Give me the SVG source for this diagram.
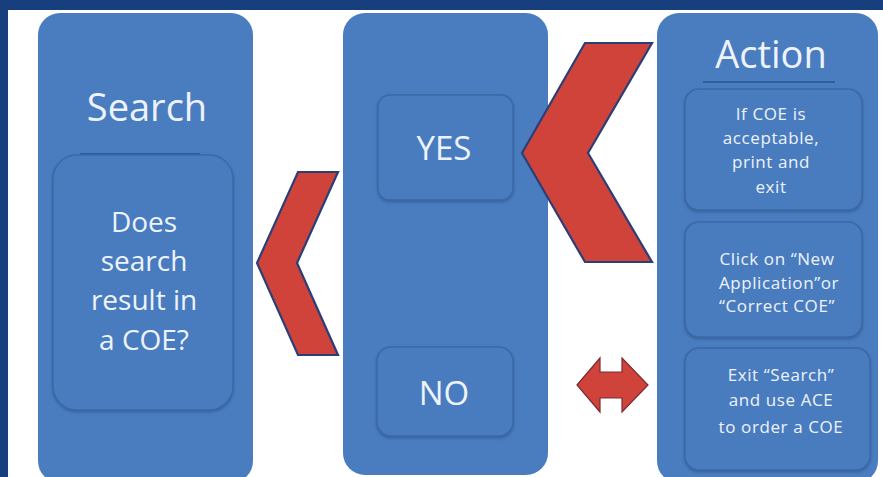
<svg xmlns="http://www.w3.org/2000/svg" width="883" height="477" viewBox="0 0 883 477">
<defs>
<style>
.panel{fill:#4a7dc0;}
.box{fill:#4a7cbf;stroke:#3a68a6;stroke-width:1.5;}
.rule{stroke:#2f5e9e;stroke-width:2;}
.t{font-family:"Open Sans","Liberation Sans",sans-serif;fill:#eef3fb;text-anchor:middle;}
.title{font-size:38px;}
.big{font-size:28px;}
.yn{font-size:33px;}
.small{font-size:17px;letter-spacing:0.6px;}
.chev{fill:#d0433b;stroke:#2a3f78;stroke-width:2.2;stroke-linejoin:miter;}
.dbl{fill:#d0433b;stroke:#7a2a35;stroke-width:1.2;}
</style>
<filter id="sh" x="-10%" y="-10%" width="120%" height="120%">
<feDropShadow dx="0" dy="1.5" stdDeviation="1.5" flood-color="#1f3f70" flood-opacity="0.5"/>
</filter>
</defs>
<rect x="0" y="0" width="883" height="477" fill="#ffffff"/>
<rect x="0" y="0" width="883" height="10" fill="#173f7d"/>
<rect x="0" y="0" width="8" height="477" fill="#173f7d"/>

<g id="search">
<rect class="panel" x="38" y="13" width="215" height="470" rx="22"/>
<text class="t title" x="147" y="121">Search</text>
<line class="rule" x1="80" y1="154" x2="200" y2="154"/>
<rect class="box" x="53" y="155" width="180" height="255" rx="24" filter="url(#sh)"/>
<text class="t big" x="144" y="232">Does</text>
<text class="t big" x="144" y="271">search</text>
<text class="t big" x="144" y="310">result in</text>
<text class="t big" x="144" y="350">a COE?</text>
</g>

<g id="decision">
<rect class="panel" x="343" y="13" width="205" height="462" rx="22"/>
<rect class="box" x="378" y="95" width="135" height="105" rx="12" filter="url(#sh)"/>
<text class="t yn" x="444" y="160">YES</text>
<rect class="box" x="377" y="347" width="136" height="89" rx="14" filter="url(#sh)"/>
<text class="t yn" x="444" y="405">NO</text>
</g>

<g id="action">
<rect class="panel" x="657" y="13" width="221" height="470" rx="22"/>
<text class="t title" x="771" y="68">Action</text>
<line class="rule" x1="703" y1="82" x2="835" y2="82"/>
<rect class="box" x="685" y="89" width="177" height="121" rx="14" filter="url(#sh)"/>
<text class="t small" x="771" y="120">If COE is</text>
<text class="t small" x="771" y="144">acceptable,</text>
<text class="t small" x="771" y="168">print and</text>
<text class="t small" x="771" y="193">exit</text>
<rect class="box" x="685" y="222" width="177" height="115" rx="14" filter="url(#sh)"/>
<text class="t small" x="777" y="265">Click on “New</text>
<text class="t small" x="779" y="289">Application”or</text>
<text class="t small" x="777" y="312">“Correct COE”</text>
<rect class="box" x="685" y="348" width="185" height="122" rx="14" filter="url(#sh)"/>
<text class="t small" x="781" y="381">Exit “Search”</text>
<text class="t small" x="781" y="406">and use ACE</text>
<text class="t small" x="781" y="433">to order a COE</text>
</g>

<g id="connectors">
<polygon class="chev" points="298,172 338,172 297,263 338,355 298,355 257,263"/>
<polygon class="chev" points="585,43 652,43 588,153 652,262 585,262 522,153"/>
<polygon class="dbl" points="577,385 600,358 600,372 622,372 622,358 648,385 622,412 622,398 600,398 600,412"/>
</g>
</svg>
